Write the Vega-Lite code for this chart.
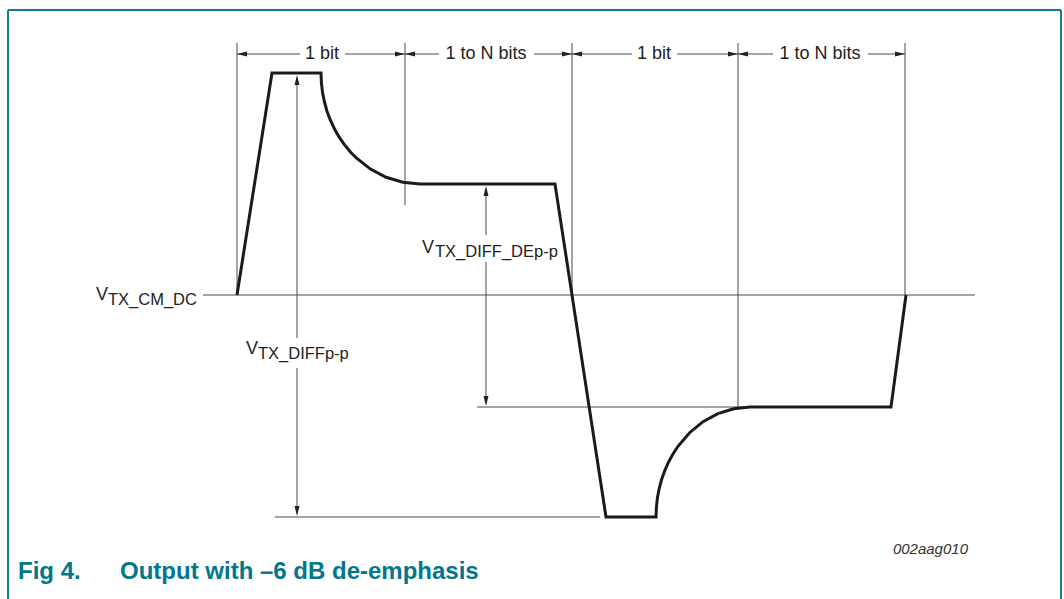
{
  "$schema": "https://vega.github.io/schema/vega-lite/v6.json",
  "width": 1064,
  "height": 599,
  "padding": 0,
  "autosize": {"type": "none"},
  "background": "white",
  "config": {"view": {"stroke": null}, "font": "Liberation Sans"},
  "datasets": {
    "frame": [
      {"x": 8, "y": 10, "x2": 1061, "y2": 10},
      {"x": 8, "y": 10, "x2": 8, "y2": 599},
      {"x": 1061, "y": 10, "x2": 1061, "y2": 599}
    ],
    "thin": [
      {"x": 237, "y": 43, "x2": 237, "y2": 295},
      {"x": 405, "y": 43, "x2": 405, "y2": 205},
      {"x": 572, "y": 43, "x2": 572, "y2": 295},
      {"x": 738, "y": 43, "x2": 738, "y2": 407},
      {"x": 905, "y": 43, "x2": 905, "y2": 295},
      {"x": 203, "y": 295, "x2": 975, "y2": 295},
      {"x": 275, "y": 517, "x2": 600, "y2": 517},
      {"x": 477, "y": 407, "x2": 745, "y2": 407},
      {"x": 237, "y": 54, "x2": 300, "y2": 54},
      {"x": 345, "y": 54, "x2": 405, "y2": 54},
      {"x": 405, "y": 54, "x2": 439, "y2": 54},
      {"x": 534, "y": 54, "x2": 572, "y2": 54},
      {"x": 572, "y": 54, "x2": 632, "y2": 54},
      {"x": 677, "y": 54, "x2": 738, "y2": 54},
      {"x": 738, "y": 54, "x2": 773, "y2": 54},
      {"x": 868, "y": 54, "x2": 905, "y2": 54},
      {"x": 297, "y": 78, "x2": 297, "y2": 338},
      {"x": 297, "y": 368, "x2": 297, "y2": 513},
      {"x": 486, "y": 189, "x2": 486, "y2": 235},
      {"x": 486, "y": 262, "x2": 486, "y2": 403}
    ],
    "wave": [
      {"i": 1, "x": 237, "y": 295},
      {"i": 2, "x": 272, "y": 73},
      {"i": 3, "x": 321, "y": 73},
      {"i": 4, "x": 321.4, "y": 82.7},
      {"i": 5, "x": 322.5, "y": 92.3},
      {"i": 6, "x": 324.4, "y": 101.7},
      {"i": 7, "x": 326.9, "y": 111},
      {"i": 8, "x": 330.3, "y": 120},
      {"i": 9, "x": 334.3, "y": 128.5},
      {"i": 10, "x": 338.9, "y": 136.7},
      {"i": 11, "x": 344.2, "y": 144.4},
      {"i": 12, "x": 350, "y": 151.5},
      {"i": 13, "x": 356.3, "y": 158},
      {"i": 14, "x": 370.5, "y": 169.1},
      {"i": 15, "x": 386.1, "y": 177.3},
      {"i": 16, "x": 402.8, "y": 182.3},
      {"i": 17, "x": 420, "y": 184},
      {"i": 18, "x": 555, "y": 184},
      {"i": 19, "x": 606, "y": 517},
      {"i": 20, "x": 656, "y": 517},
      {"i": 21, "x": 656.4, "y": 507.4},
      {"i": 22, "x": 657.4, "y": 497.9},
      {"i": 23, "x": 659.2, "y": 488.5},
      {"i": 24, "x": 661.6, "y": 479.4},
      {"i": 25, "x": 664.8, "y": 470.5},
      {"i": 26, "x": 668.6, "y": 462},
      {"i": 27, "x": 673, "y": 453.9},
      {"i": 28, "x": 678, "y": 446.3},
      {"i": 29, "x": 689.6, "y": 432.7},
      {"i": 30, "x": 703, "y": 421.7},
      {"i": 31, "x": 717.9, "y": 413.6},
      {"i": 32, "x": 733.6, "y": 408.7},
      {"i": 33, "x": 750, "y": 407},
      {"i": 34, "x": 891, "y": 407},
      {"i": 35, "x": 906, "y": 295}
    ],
    "arrows": [
      {"x": 237, "y": 54, "dir": "left"},
      {"x": 405, "y": 54, "dir": "left"},
      {"x": 572, "y": 54, "dir": "left"},
      {"x": 738, "y": 54, "dir": "left"},
      {"x": 405, "y": 54, "dir": "right"},
      {"x": 572, "y": 54, "dir": "right"},
      {"x": 738, "y": 54, "dir": "right"},
      {"x": 905, "y": 54, "dir": "right"},
      {"x": 297, "y": 75, "dir": "up"},
      {"x": 486, "y": 186, "dir": "up"},
      {"x": 297, "y": 516, "dir": "down"},
      {"x": 486, "y": 406, "dir": "down"}
    ],
    "labels": [
      {"x": 322, "y": 54, "text": "1 bit", "kind": "dim"},
      {"x": 486, "y": 54, "text": "1 to N bits", "kind": "dim"},
      {"x": 654, "y": 54, "text": "1 bit", "kind": "dim"},
      {"x": 820, "y": 54, "text": "1 to N bits", "kind": "dim"},
      {"x": 96, "y": 300, "text": "V", "kind": "v"},
      {"x": 108, "y": 305, "text": "TX_CM_DC", "kind": "sub"},
      {"x": 246, "y": 354, "text": "V", "kind": "v"},
      {"x": 258, "y": 359, "text": "TX_DIFFp-p", "kind": "sub"},
      {"x": 422, "y": 253, "text": "V", "kind": "v"},
      {"x": 435, "y": 257, "text": "TX_DIFF_DEp-p", "kind": "sub"},
      {"x": 968, "y": 554, "text": "002aag010", "kind": "id"},
      {"x": 18, "y": 579, "text": "Fig 4.", "kind": "cap"},
      {"x": 120, "y": 579, "text": "Output with –6 dB de-emphasis", "kind": "cap"}
    ]
  },
  "encoding": {
    "x": {"field": "x", "type": "quantitative", "scale": {"domain": [0, 1064], "nice": false, "zero": false}, "axis": null},
    "y": {"field": "y", "type": "quantitative", "scale": {"domain": [0, 599], "nice": false, "zero": false, "reverse": true}, "axis": null}
  },
  "layer": [
    {
      "data": {"name": "frame"},
      "mark": {"type": "rule", "stroke": "#10808f", "strokeWidth": 2},
      "encoding": {"x2": {"field": "x2"}, "y2": {"field": "y2"}}
    },
    {
      "data": {"name": "thin"},
      "mark": {"type": "rule", "stroke": "#4a4a4a", "strokeWidth": 1},
      "encoding": {"x2": {"field": "x2"}, "y2": {"field": "y2"}}
    },
    {
      "data": {"name": "wave"},
      "mark": {"type": "line", "stroke": "#1a1a1a", "strokeWidth": 3, "strokeJoin": "miter", "interpolate": "linear"},
      "encoding": {"order": {"field": "i", "type": "quantitative"}}
    },
    {
      "data": {"name": "arrows"},
      "transform": [{"filter": "datum.dir === 'left'"}],
      "mark": {"type": "point", "shape": "M0,0L2,-0.5L2,0.5Z", "size": 100, "filled": true, "fill": "#222", "strokeWidth": 0, "opacity": 1}
    },
    {
      "data": {"name": "arrows"},
      "transform": [{"filter": "datum.dir === 'right'"}],
      "mark": {"type": "point", "shape": "M0,0L-2,-0.5L-2,0.5Z", "size": 100, "filled": true, "fill": "#222", "strokeWidth": 0, "opacity": 1}
    },
    {
      "data": {"name": "arrows"},
      "transform": [{"filter": "datum.dir === 'up'"}],
      "mark": {"type": "point", "shape": "M0,0L-0.5,2L0.5,2Z", "size": 100, "filled": true, "fill": "#222", "strokeWidth": 0, "opacity": 1}
    },
    {
      "data": {"name": "arrows"},
      "transform": [{"filter": "datum.dir === 'down'"}],
      "mark": {"type": "point", "shape": "M0,0L-0.5,-2L0.5,-2Z", "size": 100, "filled": true, "fill": "#222", "strokeWidth": 0, "opacity": 1}
    },
    {
      "data": {"name": "labels"},
      "transform": [{"filter": "datum.kind === 'dim'"}],
      "mark": {"type": "text", "fontSize": 18, "align": "center", "baseline": "middle", "fill": "#222", "font": "Liberation Sans"},
      "encoding": {"text": {"field": "text"}}
    },
    {
      "data": {"name": "labels"},
      "transform": [{"filter": "datum.kind === 'v'"}],
      "mark": {"type": "text", "fontSize": 18, "align": "left", "baseline": "alphabetic", "fill": "#222", "font": "Liberation Sans"},
      "encoding": {"text": {"field": "text"}}
    },
    {
      "data": {"name": "labels"},
      "transform": [{"filter": "datum.kind === 'sub'"}],
      "mark": {"type": "text", "fontSize": 16.5, "align": "left", "baseline": "alphabetic", "fill": "#222", "font": "Liberation Sans"},
      "encoding": {"text": {"field": "text"}}
    },
    {
      "data": {"name": "labels"},
      "transform": [{"filter": "datum.kind === 'id'"}],
      "mark": {"type": "text", "fontSize": 15, "fontStyle": "italic", "align": "right", "baseline": "alphabetic", "fill": "#333", "font": "Liberation Sans"},
      "encoding": {"text": {"field": "text"}}
    },
    {
      "data": {"name": "labels"},
      "transform": [{"filter": "datum.kind === 'cap'"}],
      "mark": {"type": "text", "fontSize": 24, "fontWeight": "bold", "align": "left", "baseline": "alphabetic", "fill": "#00778a", "font": "Liberation Sans"},
      "encoding": {"text": {"field": "text"}}
    }
  ]
}
